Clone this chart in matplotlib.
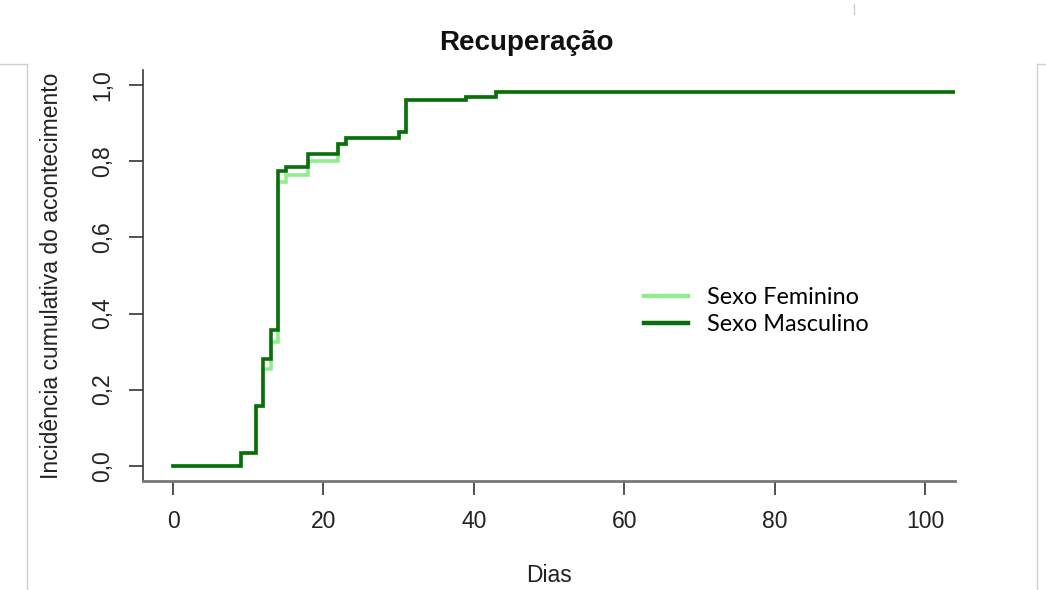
import matplotlib
matplotlib.use("Agg")
import matplotlib.pyplot as plt
from matplotlib.lines import Line2D

plt.rcParams['font.family'] = ['Liberation Sans', 'DejaVu Sans']

# Cumulative incidence of recovery (days since onset)
days_fem = [0, 9, 11, 12, 13, 14, 15, 18, 22, 23, 30, 31, 39, 43, 104]
inc_fem = [0.0, 0.034, 0.156, 0.253, 0.324, 0.745, 0.765, 0.800, 0.845, 0.862, 0.877, 0.960, 0.969, 0.982, 0.982]

days_masc = [0, 9, 11, 12, 13, 14, 15, 18, 22, 23, 30, 31, 39, 43, 104]
inc_masc = [0.0, 0.034, 0.156, 0.281, 0.358, 0.775, 0.785, 0.820, 0.845, 0.862, 0.877, 0.960, 0.969, 0.982, 0.982]

series_labels = ["Sexo Feminino", "Sexo Masculino"]
x_ticks = [0, 20, 40, 60, 80, 100]
y_ticks = [0.0, 0.2, 0.4, 0.6, 0.8, 1.0]
y_tick_labels = ["0,0", "0,2", "0,4", "0,6", "0,8", "1,0"]

W, H = 1046, 590
fig = plt.figure(figsize=(W / 100, H / 100), dpi=100)
ax = fig.add_axes([143 / W, 1 - 481 / H, (955 - 143) / W, (481 - 70) / H])

col_fem = "#90ee90"
col_masc = "#0a6e0a"
ax.step(days_fem, inc_fem, where="post", color=col_fem, lw=2.6,
        label=series_labels[0], solid_joinstyle="miter")
ax.step(days_masc, inc_masc, where="post", color=col_masc, lw=2.6,
        label=series_labels[1], solid_joinstyle="miter")

ax.set_xlim(-4, 104)
ax.set_ylim(-0.04, 1.04)

for s in ("top", "right"):
    ax.spines[s].set_visible(False)
ax.spines["left"].set_color("#3a3a3a")
ax.spines["left"].set_linewidth(1.2)
ax.spines["bottom"].set_color("#777777")
ax.spines["bottom"].set_linewidth(2.0)

ax.set_xticks(x_ticks)
ax.set_xticklabels([str(v) for v in x_ticks])
ax.set_yticks(y_ticks)
ax.set_yticklabels(y_tick_labels, rotation=90, va="center")
ax.tick_params(axis="both", direction="out", length=10, width=1.2,
               colors="#333333", labelsize=16.5, labelcolor="#222222")
ax.tick_params(axis="x", pad=11)
ax.tick_params(axis="y", pad=11)

ax.set_xlabel("Dias", fontsize=16.5, color="#222222", labelpad=22)
ax.set_ylabel("Incidência cumulativa do acontecimento", fontsize=16.5,
              color="#222222", labelpad=20)
fig.text(526 / W, 1 - 43 / H, "Recuperação", fontsize=20, fontweight="bold",
         ha="center", va="center", color="#111111")

leg = ax.legend(loc="center left", bbox_to_anchor=(628 / W, 1 - 311 / H),
                bbox_transform=fig.transFigure, frameon=False,
                prop={"family": ["Lato", "DejaVu Sans"], "size": 16.9},
                handlelength=1.85, handletextpad=0.8, labelspacing=0.25,
                borderpad=0.2)
for line in leg.get_lines():
    line.set_linewidth(3.2)

# page edge marks
edge = "#cfcfcf"
def fig_line(xs, ys):
    fig.add_artist(Line2D([x / W for x in xs], [1 - y / H for y in ys],
                          color=edge, lw=1.0, transform=fig.transFigure))
fig_line([0, 26.5], [64, 64])
fig_line([26.5, 26.5], [64, 590])
fig_line([1036.5, 1046], [64, 64])
fig_line([1036.5, 1036.5], [64, 590])
fig_line([854, 854], [4, 14])

fig.savefig("out.png", dpi=100, facecolor="white")
